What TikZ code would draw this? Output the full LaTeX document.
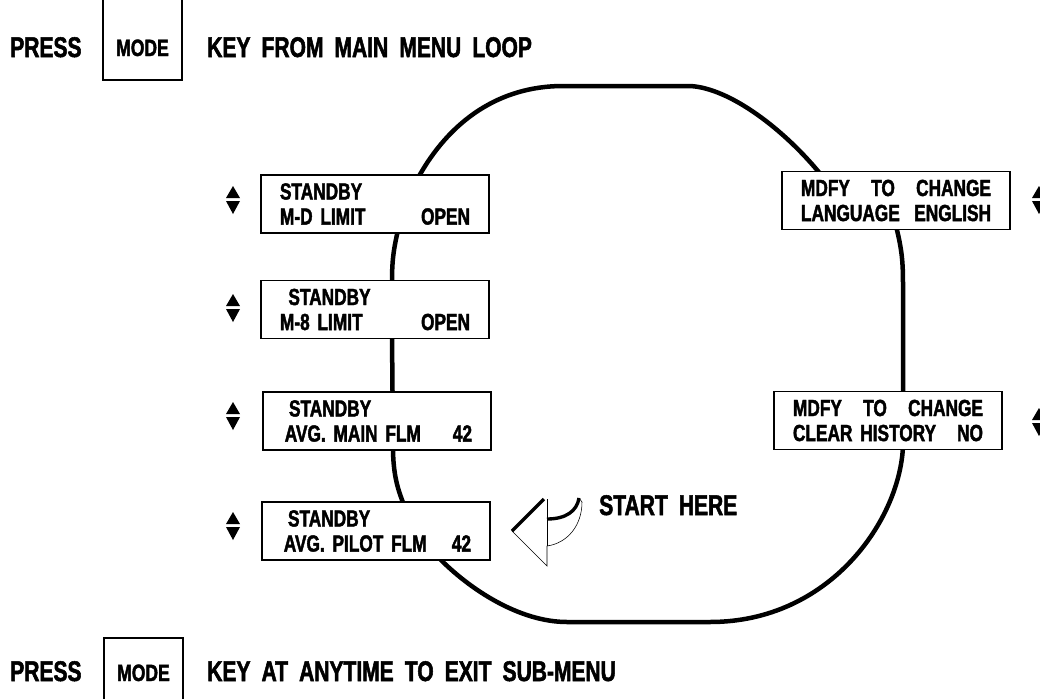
\documentclass[tikz,border=0pt]{standalone}
\usepackage{fontspec}
\setmainfont{Liberation Sans}[FakeStretch=0.74,FakeBold=1.8,WordSpace=1.9]
\usetikzlibrary{arrows.meta}

\begin{document}
\begin{tikzpicture}[x=0.025cm,y=-0.025cm,
    lcd/.style={draw,fill=white,line width=0.8pt,text width=4.75cm,inner xsep=0.475cm,
        inner ysep=0pt,minimum height=1.45cm,align=left,
        font=\bfseries\fontsize{16.6}{17.8}\selectfont},
    keybox/.style={draw,line width=1.2pt,minimum width=1.975cm},
    bigtext/.style={font=\bfseries\fontsize{20.2}{22}\selectfont,inner sep=0pt,anchor=base west},
    keytext/.style={font=\bfseries\fontsize{16.8}{18}\selectfont,inner sep=0pt,anchor=base},
    loopline/.style={line width=3.2pt}]
    \useasboundingbox (0,0) rectangle (1040,698);
    \clip (0,0) rectangle (1040,698);

    % Main menu loop (drawn first, boxes sit on top)
    \draw[loopline] (418,178) .. controls (450,120) and (500,86) .. (563,86) -- (690,86)
        .. controls (730,88) and (785,130) .. (822,176);
    \draw[loopline] (896,226) .. controls (902,250) and (903,262) .. (903,285) -- (903,395);
    \draw[loopline] (903,446) .. controls (900,520) and (830,622) .. (710,622) -- (567,622)
        .. controls (520,622) and (470,590) .. (438,557);
    \draw[loopline] (404,505) .. controls (398,490) and (393,475) .. (393,447) -- (392,335);
    \draw[loopline] (392,284) .. controls (392,262) and (393,252) .. (398,230);

    % Display screens
    \node[lcd] (mdLimit) at (375,204) {STANDBY\\M-D LIMIT\hfill OPEN};
    \node[lcd] (m8Limit) at (375,309.5) {\hspace*{6pt}STANDBY\\M-8 LIMIT\hfill OPEN};
    \node[lcd] (mainFlm) at (377,421) {\hspace*{5pt}STANDBY\\\hspace*{2pt}AVG. MAIN FLM\hfill 42\hspace*{5pt}};
    \node[lcd] (pilotFlm) at (376,531) {\hspace*{5pt}STANDBY\\\hspace*{2pt}AVG. PILOT FLM\hfill 42\hspace*{3pt}};
    \node[lcd] (language) at (896,200.5) {MDFY\hfill TO\hfill CHANGE\\LANGUAGE\hfill ENGLISH};
    \node[lcd] (clearHist) at (888,420.5) {MDFY\hfill TO\hfill CHANGE\\CLEAR HISTORY\hfill NO};

    % Up/down keys
    \foreach \x/\y in {233/200,233/308,233/416,233/526,1039/200,1039/422} {
        \fill (\x-7,\y-2) -- (\x+7,\y-2) -- (\x,\y-14) -- cycle;
        \fill (\x-7,\y+1) -- (\x+7,\y+1) -- (\x,\y+14) -- cycle;
    }

    % Start arrow
    \draw[line width=0.4pt] (512,531) -- (547,566) -- (547,546)
        .. controls (568,543) and (582,525) .. (582,502) -- (579,498);
    \draw[line width=0.4pt] (547,499) -- (547,546);
    \draw[line width=2.4pt] (512,531) -- (544,499);
    \draw[line width=2.4pt] (547,519) .. controls (566,519) and (577,511) .. (579,498);
    \node[bigtext] (startHere) at (599,515) {START HERE};

    % Top line
    \node[keybox,minimum height=2.125cm] (keyTop) at (142.5,37.5) {};
    \node[keytext] (modeTop) at (142.5,56) {MODE};
    \node[bigtext] (pressTop) at (10,57) {PRESS};
    \node[bigtext] (keyFrom) at (207,57) {KEY FROM MAIN MENU LOOP};

    % Bottom line
    \node[keybox,minimum height=2.05cm] (keyBot) at (143.5,679) {};
    \node[keytext] (modeBot) at (143.5,681) {MODE};
    \node[bigtext] (pressBot) at (10,681) {PRESS};
    \node[bigtext] (keyExit) at (207,681) {KEY AT ANYTIME TO EXIT SUB-MENU};
\end{tikzpicture}
\end{document}
